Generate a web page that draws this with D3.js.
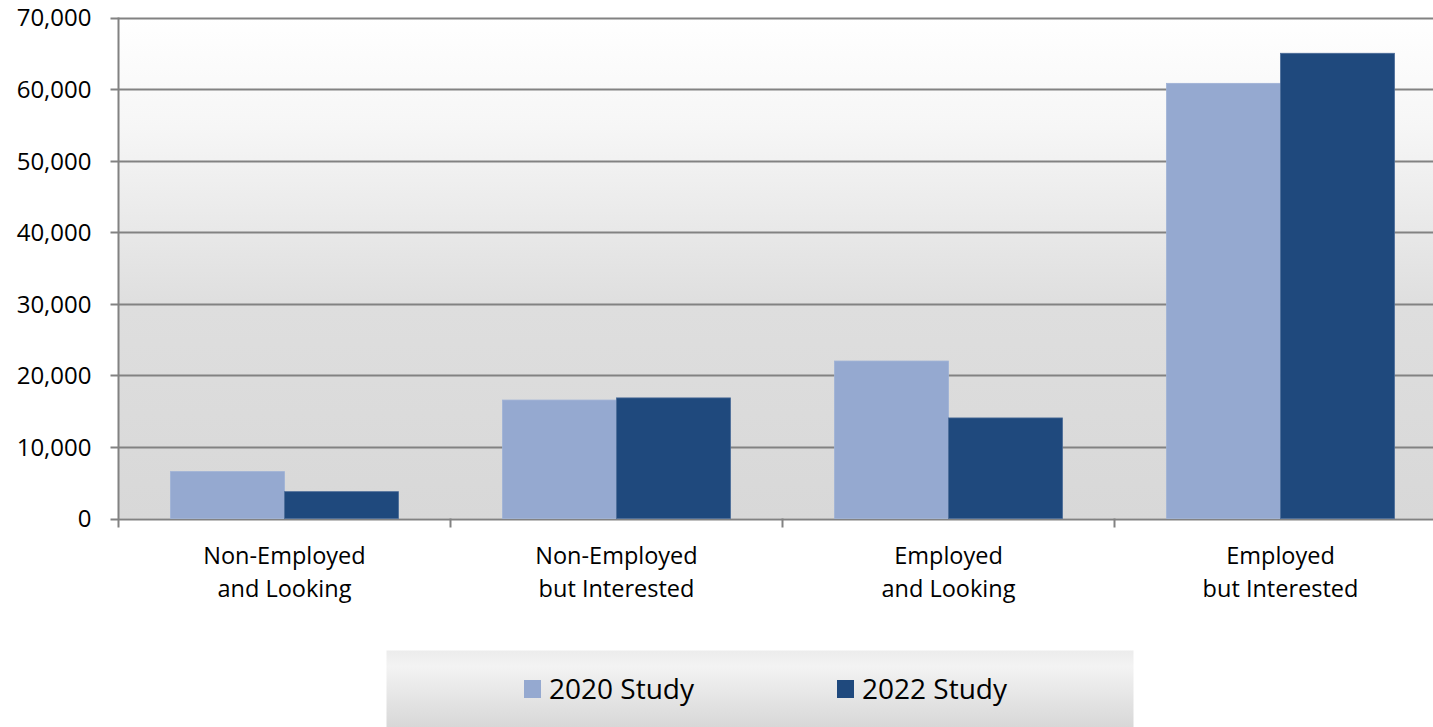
<!DOCTYPE html>
<html>
<head>
<meta charset="utf-8">
<script src="https://cdn.jsdelivr.net/npm/d3@7"></script>
<style>
  html, body { margin: 0; padding: 0; background: #ffffff; }
  svg { display: block; }
  text { font-family: "Open Sans", "Noto Sans", sans-serif; fill: #000; }
</style>
</head>
<body>
<svg id="chart" width="1433" height="727"></svg>
<script>
// Job seekers by employment status, two survey waves
const categories = [
  ["Non-Employed", "and Looking"],
  ["Non-Employed", "but Interested"],
  ["Employed", "and Looking"],
  ["Employed", "but Interested"]
];
const seriesNames = ["2020 Study", "2022 Study"];
const study2020 = [6550, 16550, 22000, 60800];
const study2022 = [3750, 16850, 14050, 65000];
const yTicks = [0, 10000, 20000, 30000, 40000, 50000, 60000, 70000];
const colors = ["#95a9d0", "#1f497d"];

const svg = d3.select("#chart");

const plot = { left: 118.5, top: 17.5, bottom: 518.5, right: 1446.5 };
const catKeys = categories.map(c => c.join(" "));

const x0 = d3.scaleBand().domain(catKeys).range([plot.left, plot.right])
  .paddingInner(0).paddingOuter(0);
const x1 = d3.scaleBand().domain(seriesNames).range([0, x0.bandwidth()])
  .paddingInner(0).paddingOuter(0.456);
const y = d3.scaleLinear().domain([0, 70000]).range([plot.bottom, plot.top]);

const defs = svg.append("defs");
const bg = defs.append("linearGradient").attr("id", "plotBg")
  .attr("x1", 0).attr("y1", 0).attr("x2", 0).attr("y2", 1);
bg.append("stop").attr("offset", "0%").attr("stop-color", "#ffffff");
bg.append("stop").attr("offset", "22%").attr("stop-color", "#f6f6f6");
bg.append("stop").attr("offset", "58%").attr("stop-color", "#dedede");
bg.append("stop").attr("offset", "100%").attr("stop-color", "#d8d8d8");

const lg = defs.append("linearGradient").attr("id", "legendBg")
  .attr("x1", 0).attr("y1", 0).attr("x2", 0).attr("y2", 1);
lg.append("stop").attr("offset", "0%").attr("stop-color", "#ececec");
lg.append("stop").attr("offset", "20%").attr("stop-color", "#f3f3f3");
lg.append("stop").attr("offset", "100%").attr("stop-color", "#d6d6d6");

// plot area background
svg.append("rect")
  .attr("x", plot.left).attr("y", plot.top)
  .attr("width", plot.right - plot.left).attr("height", plot.bottom - plot.top)
  .attr("fill", "url(#plotBg)");

// horizontal gridlines (extend left as tick marks)
svg.append("g").selectAll("line").data(yTicks).join("line")
  .attr("x1", plot.left - 8).attr("x2", plot.right)
  .attr("y1", d => Math.round(y(d)) + 0.5).attr("y2", d => Math.round(y(d)) + 0.5)
  .attr("stroke", "#828282").attr("stroke-width", 2);

// y axis labels
const yAxis = d3.axisLeft(y).tickValues(yTicks).tickFormat(d3.format(","))
  .tickSize(0).tickPadding(27);
const yg = svg.append("g").attr("transform", `translate(${plot.left},0)`).call(yAxis);
yg.select(".domain").remove();
yg.selectAll("text").attr("font-size", 24).attr("fill", "#000")
  .attr("font-family", "\"Open Sans\", sans-serif").attr("dy", "0.35em");

// bars
const groups = svg.append("g").selectAll("g").data(catKeys).join("g")
  .attr("transform", d => `translate(${x0(d)},0)`);
groups.selectAll("rect")
  .data((d, i) => [
    { s: seriesNames[0], v: study2020[i] },
    { s: seriesNames[1], v: study2022[i] }
  ])
  .join("rect")
  .attr("x", d => x1(d.s))
  .attr("width", x1.bandwidth())
  .attr("y", d => y(d.v))
  .attr("height", d => y(0) - y(d.v))
  .attr("fill", (d, i) => colors[i])
  .attr("stroke", (d, i) => i === 0 ? "#9fb2d6" : "#4a6b98")
  .attr("stroke-width", 0.8);

// y axis line and category ticks
svg.append("line")
  .attr("x1", plot.left).attr("x2", plot.left)
  .attr("y1", plot.top).attr("y2", plot.bottom + 9)
  .attr("stroke", "#828282").attr("stroke-width", 2);
svg.append("g").selectAll("line").data(catKeys.slice(1)).join("line")
  .attr("x1", d => x0(d)).attr("x2", d => x0(d))
  .attr("y1", plot.bottom).attr("y2", plot.bottom + 9)
  .attr("stroke", "#828282").attr("stroke-width", 2);

// category labels
const xl = svg.append("g").selectAll("text").data(categories).join("text")
  .attr("x", (d, i) => x0(catKeys[i]) + x0.bandwidth() / 2)
  .attr("y", 564)
  .attr("text-anchor", "middle")
  .attr("font-size", 23.5);
xl.selectAll("tspan").data(d => d).join("tspan")
  .attr("x", function () { return d3.select(this.parentNode).attr("x"); })
  .attr("dy", (d, i) => i === 0 ? 0 : 33)
  .text(d => d);

// legend
svg.append("rect")
  .attr("x", 386.5).attr("y", 650.5).attr("width", 747).attr("height", 80)
  .attr("fill", "url(#legendBg)");
const legendX = [524, 837];
const leg = svg.append("g").selectAll("g").data(seriesNames).join("g")
  .attr("transform", (d, i) => `translate(${legendX[i]},680)`);
leg.append("rect").attr("width", 17).attr("height", 18)
  .attr("fill", (d, i) => colors[i]);
leg.append("text").attr("x", 25).attr("y", 19).attr("font-size", 28)
  .text(d => d);
</script>
</body>
</html>
